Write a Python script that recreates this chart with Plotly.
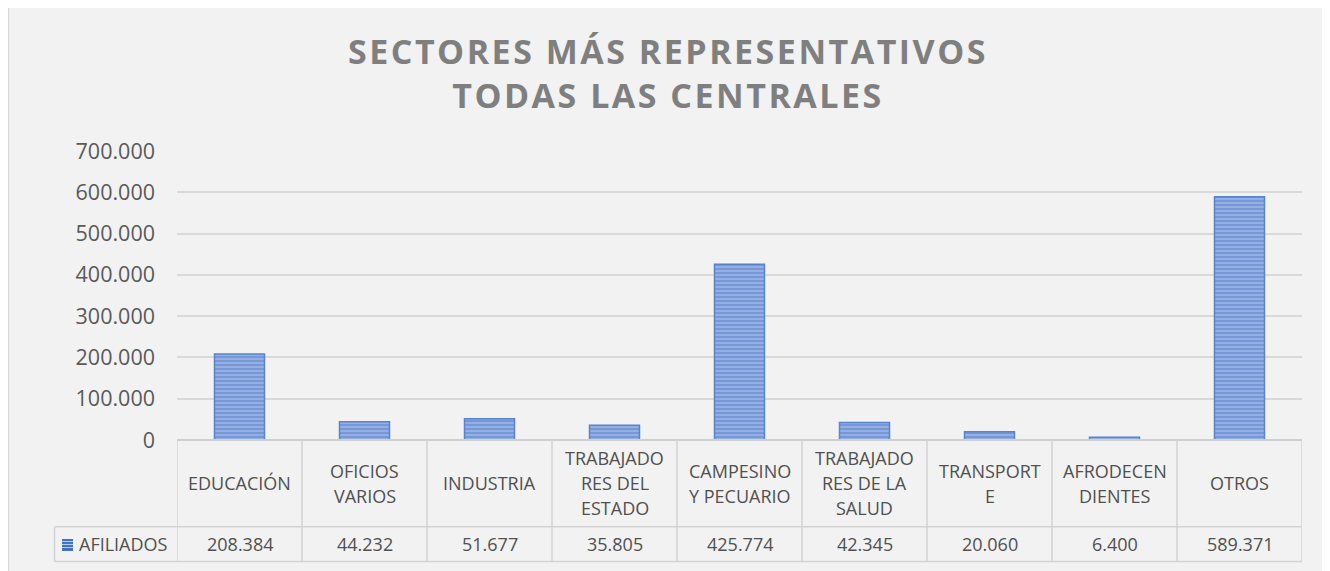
import plotly.graph_objects as go

categories = ["EDUCACIÓN", "OFICIOS VARIOS", "INDUSTRIA", "TRABAJADORES DEL ESTADO",
              "CAMPESINO Y PECUARIO", "TRABAJADORES DE LA SALUD", "TRANSPORTE",
              "AFRODECENDIENTES", "OTROS"]
header_lines = [["EDUCACIÓN"], ["OFICIOS", "VARIOS"], ["INDUSTRIA"],
                ["TRABAJADO", "RES DEL", "ESTADO"], ["CAMPESINO", "Y PECUARIO"],
                ["TRABAJADO", "RES DE LA", "SALUD"], ["TRANSPORT", "E"],
                ["AFRODECEN", "DIENTES"], ["OTROS"]]
afiliados = [208384, 44232, 51677, 35805, 425774, 42345, 20060, 6400, 589371]
value_labels = ["208.384", "44.232", "51.677", "35.805", "425.774", "42.345", "20.060", "6.400", "589.371"]
series_name = "AFILIADOS"
y_ticks = [0, 100000, 200000, 300000, 400000, 500000, 600000, 700000]

# page is rendered with an 8px body margin
OFF = 8
W, H = 1330 - OFF, 571 - OFF
L, R, T, B = 177, 1302, 151, 440          # plot area in page pixels
def px_x(px): return (px - L) / (R - L)
def px_y(py): return (B - py) / (B - T)

FONT = "Open Sans"
TXT = "#505050"
GRID = "#d9d9d9"
TBL = "#d3d3d3"

fig = go.Figure()
fig.add_trace(go.Bar(
    x=categories, y=afiliados, name=series_name, showlegend=False,
    marker=dict(color="#4472c4",
                line=dict(color="#5a82cf", width=1.5),
                pattern=dict(shape="-", fgcolor="#4472c4", bgcolor="#a8bfe9",
                             size=4, solidity=0.7)),
    hoverinfo="x+y",
))

shapes = []
# outer chart frame (top and left edges visible)
shapes.append(dict(type="rect", xref="paper", yref="paper",
                   x0=px_x(8.5), x1=px_x(1345), y0=px_y(590), y1=px_y(7),
                   fillcolor="rgba(0,0,0,0)", line=dict(color="#d9d9d9", width=1.5),
                   layer="below"))
n = len(categories)
# table horizontal lines
shapes.append(dict(type="line", xref="x", yref="paper", x0=-0.5, x1=n - 0.5,
                   y0=px_y(440), y1=px_y(440), line=dict(color="#cfcfcf", width=2)))
for py in (526.7, 561.5):
    shapes.append(dict(type="line", xref="paper", yref="paper", x0=px_x(54.5), x1=1,
                       y0=px_y(py), y1=px_y(py), line=dict(color=TBL, width=1.5)))
# table vertical lines
for i in range(n + 1):
    shapes.append(dict(type="line", xref="x", yref="paper", x0=i - 0.5, x1=i - 0.5,
                       y0=px_y(440), y1=px_y(561.5), line=dict(color=TBL, width=1.5)))
shapes.append(dict(type="line", xref="paper", yref="paper", x0=px_x(54.5), x1=px_x(54.5),
                   y0=px_y(526.7), y1=px_y(561.5), line=dict(color=TBL, width=1.5)))
# legend key
shapes.append(dict(type="rect", xref="paper", yref="paper",
                   x0=px_x(62), x1=px_x(73), y0=px_y(551), y1=px_y(539),
                   fillcolor="#4472c4", line=dict(width=0)))
for py in (541.5, 544.5, 547.5):
    shapes.append(dict(type="line", xref="paper", yref="paper", x0=px_x(62), x1=px_x(73),
                       y0=px_y(py), y1=px_y(py), line=dict(color="#b9cbee", width=1)))

annotations = []
head_c = (440 + 526.7) / 2
for i, lines in enumerate(header_lines):
    k = len(lines)
    for j, t in enumerate(lines):
        annotations.append(dict(x=i, xref="x", y=px_y(head_c), yref="paper",
                                yshift=-(j - (k - 1) / 2) * 25, text=t, showarrow=False,
                                xanchor="center", yanchor="middle",
                                font=dict(family=FONT, size=18, color=TXT)))
row_c = (526.7 + 561.5) / 2
for i, v in enumerate(value_labels):
    annotations.append(dict(x=i, xref="x", y=px_y(row_c), yref="paper", text=v,
                            showarrow=False, xanchor="center", yanchor="middle",
                            font=dict(family=FONT, size=18, color=TXT)))
annotations.append(dict(x=px_x(77), xref="paper", y=px_y(row_c), yref="paper",
                        text=series_name, showarrow=False, xanchor="left", yanchor="middle",
                        font=dict(family=FONT, size=18, color=TXT)))

fig.update_layout(
    width=W, height=H,
    margin=dict(l=L - OFF, r=W - (R - OFF), t=T - OFF, b=H - (B - OFF), pad=0),
    paper_bgcolor="#f2f2f2", plot_bgcolor="rgba(0,0,0,0)",
    separators=",.",
    bargap=0.6,
    title=dict(
        text='<span style="letter-spacing:2.5px">SECTORES MÁS REPRESENTATIVOS</span><br>'
             '<span style="letter-spacing:2.5px">TODAS LAS CENTRALES</span>',
        x=px_x(668), xref="paper", xanchor="center",
        y=1 - 56 / H, yref="container", yanchor="top",
        font=dict(family=FONT, size=34, color="#7f7f7f", weight="bold")),
    xaxis=dict(showticklabels=False, showgrid=False, zeroline=False, showline=False,
               ticks="", range=[-0.5, n - 0.5]),
    yaxis=dict(range=[0, 700000], tickvals=y_ticks, tickformat=",d",
               showgrid=True, gridcolor=GRID, gridwidth=1.5, zeroline=False,
               showline=False, ticks="", ticklabelstandoff=21,
               tickfont=dict(family=FONT, size=21.5, color="#595959")),
    shapes=shapes, annotations=annotations,
)

fig.write_html("out.html")
